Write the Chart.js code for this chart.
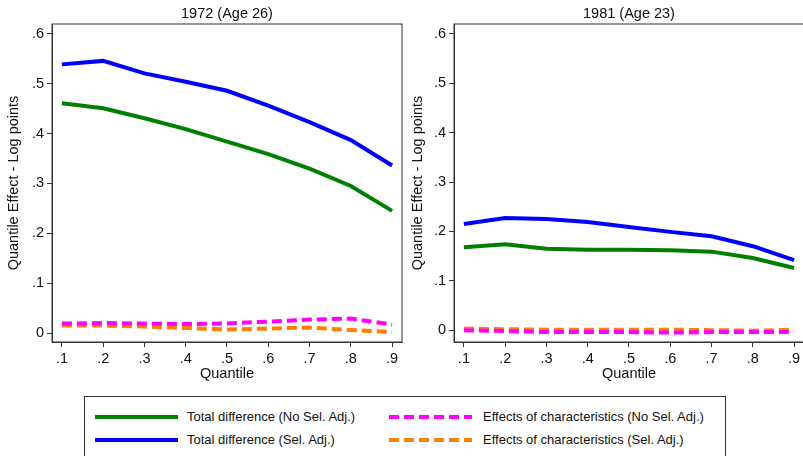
<!DOCTYPE html>
<html>
<head>
<meta charset="utf-8">
<script src="https://cdn.jsdelivr.net/npm/chart.js@4"></script>
<style>
  body { margin: 0; background: #fff; overflow: hidden; width: 803px; height: 456px; position: relative; }
  canvas { position: absolute; top: 0; }
  #legend { position: absolute; left: 84px; top: 396px; width: 640px; height: 80px; border: 1px solid #333;
            font-family: "Liberation Sans", Arial, Helvetica, sans-serif; font-size: 13px; color: #111; }
  .item { position: absolute; height: 16px; line-height: 16px; }
  .swatch { position: absolute; top: 6px; width: 83px; height: 4px; }
  .label { position: absolute; white-space: nowrap; }
</style>
</head>
<body>
<canvas id="left" width="405" height="390" style="left:0px"></canvas>
<canvas id="right" width="401" height="390" style="left:403px"></canvas>
<div id="legend"></div>

<script>
// quantiles on the x axis
const quantiles = [0.1, 0.2, 0.3, 0.4, 0.5, 0.6, 0.7, 0.8, 0.9];
const xTickLabels = ['.1', '.2', '.3', '.4', '.5', '.6', '.7', '.8', '.9'];
const yTicks = [0, 0.1, 0.2, 0.3, 0.4, 0.5, 0.6];
const yTickLabels = ['0', '.1', '.2', '.3', '.4', '.5', '.6'];

const seriesNames = [
  'Total difference (No Sel. Adj.)',
  'Total difference (Sel. Adj.)',
  'Effects of characteristics (No Sel. Adj.)',
  'Effects of characteristics (Sel. Adj.)'
];

// 1972 (Age 26)
const total1972NoSel = [0.461, 0.451, 0.431, 0.409, 0.384, 0.359, 0.330, 0.295, 0.245];
const total1972Sel   = [0.539, 0.546, 0.521, 0.504, 0.486, 0.456, 0.423, 0.387, 0.336];
const chars1972NoSel = [0.019, 0.020, 0.019, 0.018, 0.019, 0.023, 0.027, 0.029, 0.017];
const chars1972Sel   = [0.015, 0.015, 0.013, 0.010, 0.007, 0.009, 0.011, 0.006, 0.002];

// 1981 (Age 23)
const total1981NoSel = [0.168, 0.174, 0.165, 0.163, 0.163, 0.162, 0.159, 0.146, 0.126];
const total1981Sel   = [0.215, 0.227, 0.225, 0.219, 0.209, 0.199, 0.190, 0.170, 0.142];
const chars1981NoSel = [0.000, -0.002, -0.004, -0.004, -0.004, -0.005, -0.004, -0.004, -0.004];
const chars1981Sel   = [0.003, 0.002, 0.001, 0.001, 0.001, 0.001, 0.000, -0.001, 0.001];

const colors = ['rgb(0,128,0)', 'rgb(0,0,255)', 'rgb(255,0,255)', 'rgb(255,128,0)'];
const dashes = [[], [], [10, 5], [10, 5]];

const FONT = '"Liberation Sans", Arial, Helvetica, sans-serif';
const AXIS = '#333';

// outline round the plot region
const boxPlugin = {
  id: 'box',
  afterDraw(chart) {
    const { ctx, chartArea: a } = chart;
    ctx.save();
    ctx.strokeStyle = AXIS;
    ctx.lineWidth = 1;
    ctx.strokeRect(a.left, a.top, a.right - a.left, a.bottom - a.top);
    ctx.restore();
  }
};

function makePanel(id, title, series, yMin, axisWidth, yTitlePad, padRight) {
  const ctx = document.getElementById(id).getContext('2d');
  return new Chart(ctx, {
    type: 'line',
    data: {
      datasets: series.map((vals, i) => ({
        label: seriesNames[i],
        data: quantiles.map((q, j) => ({ x: q, y: vals[j] })),
        borderColor: colors[i],
        borderDash: dashes[i],
        borderWidth: 4,
        pointRadius: 0,
        tension: 0,
        fill: false
      }))
    },
    options: {
      responsive: false,
      animation: false,
      devicePixelRatio: 1,
      layout: { padding: { left: 0, right: padRight, top: 0, bottom: 0 } },
      plugins: {
        legend: { display: false },
        tooltip: { enabled: false },
        title: {
          display: true,
          text: title,
          fullSize: false,
          color: '#111',
          font: { family: FONT, size: 14.5, weight: 'normal' },
          padding: { top: 5, bottom: 1.6 }
        }
      },
      scales: {
        x: {
          type: 'linear',
          min: 0.076,
          max: 0.924,
          afterBuildTicks: s => { s.ticks = quantiles.map(v => ({ value: v })); },
          afterFit: s => { s.height = 48; },
          ticks: {
            color: '#111',
            font: { family: FONT, size: 14.5 },
            padding: 3,
            maxRotation: 0,
            autoSkip: false,
            callback: v => xTickLabels[quantiles.indexOf(v)]
          },
          grid: { display: true, drawOnChartArea: false, drawTicks: true, tickLength: 5, color: AXIS },
          border: { display: true, color: AXIS, width: 1 },
          title: {
            display: true,
            text: 'Quantile',
            color: '#111',
            font: { family: FONT, size: 14.5 },
            padding: { top: 0, bottom: 7.3 }
          }
        },
        y: {
          min: yMin,
          max: 0.62,
          afterBuildTicks: s => { s.ticks = yTicks.map(v => ({ value: v })); },
          afterFit: s => { s.width = axisWidth; },
          ticks: {
            color: '#111',
            font: { family: FONT, size: 14.5 },
            padding: 3,
            autoSkip: false,
            callback: v => yTickLabels[yTicks.indexOf(v)]
          },
          grid: { display: true, drawOnChartArea: false, drawTicks: true, tickLength: 5, color: AXIS },
          border: { display: true, color: AXIS, width: 1 },
          title: {
            display: true,
            text: 'Quantile Effect - Log points',
            color: '#111',
            font: { family: FONT, size: 14.5 },
            padding: { top: yTitlePad, bottom: 0 }
          }
        }
      }
    },
    plugins: [boxPlugin]
  });
}

makePanel('left', '1972 (Age 26)',
  [total1972NoSel, total1972Sel, chars1972NoSel, chars1972Sel], -0.018, 52, 5.3, 3);
makePanel('right', '1981 (Age 23)',
  [total1981NoSel, total1981Sel, chars1981NoSel, chars1981Sel], -0.024, 51, 6.3, 0);

// legend below the panels
const legendPos = [
  { sx: 10, tx: 102, y: 12 },
  { sx: 10, tx: 102, y: 35 },
  { sx: 304, tx: 398, y: 12 },
  { sx: 304, tx: 398, y: 35 }
];
const legend = document.getElementById('legend');
seriesNames.forEach((name, i) => {
  const p = legendPos[i];
  const item = document.createElement('div');
  item.className = 'item';
  item.style.top = p.y + 'px';
  item.style.left = '0px';
  const sw = document.createElement('div');
  sw.className = 'swatch';
  sw.style.left = p.sx + 'px';
  if (dashes[i].length) {
    sw.style.background = `repeating-linear-gradient(to right, ${colors[i]} 0 10px, transparent 10px 15px)`;
  } else {
    sw.style.background = colors[i];
  }
  const lb = document.createElement('div');
  lb.className = 'label';
  lb.style.left = p.tx + 'px';
  lb.textContent = name;
  item.appendChild(sw);
  item.appendChild(lb);
  legend.appendChild(item);
});
</script>
</body>
</html>
